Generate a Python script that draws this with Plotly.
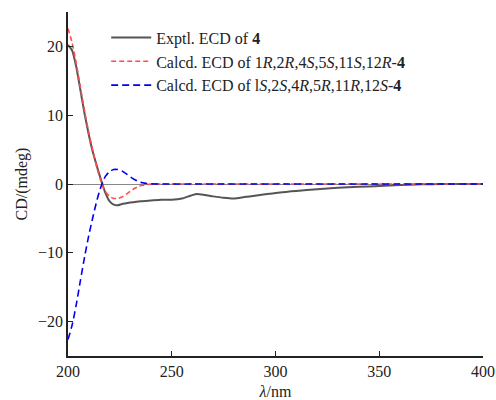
import plotly.graph_objects as go

# wavelength grid (nm) and CD values (mdeg)
wl_exp = [200, 202, 204, 206, 208, 210, 212, 214, 216, 218, 220, 222, 224, 226, 228,
          230, 235, 240, 245, 250, 255, 258, 262, 266, 270, 275, 280, 285, 290, 295,
          300, 305, 310, 320, 330, 340, 350, 360, 370, 380, 390, 400]
cd_exp = [20.2, 19.4, 17.0, 13.6, 10.2, 7.2, 4.6, 2.5, 0.5, -1.3, -2.5, -3.0, -3.1, -2.9, -2.8,
          -2.7, -2.5, -2.4, -2.3, -2.3, -2.1, -1.8, -1.45, -1.6, -1.8, -2.0, -2.1, -1.9, -1.7, -1.5,
          -1.3, -1.15, -1.0, -0.75, -0.55, -0.4, -0.3, -0.15, -0.05, 0.0, 0.0, 0.0]

wl_calc = [200, 202, 204, 206, 208, 210, 212, 214, 216, 218, 220, 222, 224, 226, 228,
           230, 232, 234, 236, 238, 240, 245, 250, 300, 350, 400]
cd_calc_a = [22.6, 20.5, 17.5, 14.0, 10.6, 7.5, 4.8, 2.3, 0.3, -1.1, -1.8, -2.1, -2.1, -1.9, -1.5,
             -1.05, -0.65, -0.35, -0.17, -0.07, -0.02, 0.0, 0.0, 0.0, 0.0, 0.0]
cd_calc_b = [-v for v in cd_calc_a]

names = ['Exptl. ECD of <b>4</b>',
         'Calcd. ECD of 1<i>R</i>,2<i>R</i>,4<i>S</i>,5<i>S</i>,11<i>S</i>,12<i>R</i>-<b>4</b>',
         'Calcd. ECD of l<i>S</i>,2<i>S</i>,4<i>R</i>,5<i>R</i>,11<i>R</i>,12<i>S</i>-<b>4</b>']

font_family = 'Liberation Serif'

fig = go.Figure()
fig.add_trace(go.Scatter(x=wl_exp, y=cd_exp, name=names[0], mode='lines', legendgroup='a',
                         line=dict(color='#555555', width=2, shape='spline', smoothing=0.6)))
fig.add_trace(go.Scatter(x=wl_calc, y=cd_calc_a, name=names[1], mode='lines', legendgroup='b',
                         line=dict(color='#ff4d4d', width=1.6, dash='5px,3px', shape='spline', smoothing=0.6)))
fig.add_trace(go.Scatter(x=wl_calc, y=cd_calc_b, name=names[2], mode='lines', legendgroup='c',
                         line=dict(color='#0000ee', width=1.6, dash='7px,4px', shape='spline', smoothing=0.6)))

fig.update_layout(
    width=496, height=400,
    paper_bgcolor='white', plot_bgcolor='white',
    font=dict(family=font_family, size=16, color='#222222'),
    margin=dict(l=68, r=13, t=12, b=44),
    showlegend=True,
    legend=dict(x=0.092, y=0.975, xanchor='left', yanchor='top', itemwidth=40,
                bgcolor='rgba(0,0,0,0)', font=dict(family=font_family, size=16, color='#222222'),
                traceorder='grouped', tracegroupgap=0),
    xaxis=dict(
        range=[200, 400], tickvals=[200, 250, 300, 350, 400],
        showgrid=False, zeroline=False, automargin=False,
        showline=True, linecolor='#222222', linewidth=1.5,
        ticks='inside', ticklen=5, tickcolor='#222222', tickwidth=1.2,
        title=dict(text='<i>λ</i>/nm', standoff=7, font=dict(size=16)),
    ),
    yaxis=dict(
        range=[-25, 25], tickvals=[-20, -10, 0, 10, 20],
        ticktext=['−20', '−10', '0', '10', '20'],
        showgrid=False, zeroline=True, zerolinecolor='#888888', zerolinewidth=1,
        showline=True, linecolor='#222222', linewidth=1.5, automargin=False,
        ticks='inside', ticklen=5, tickcolor='#222222', tickwidth=1.2,
        title=dict(text='CD/(mdeg)', standoff=6, font=dict(size=16)),
    ),
)

fig.write_html("out.html", config={'displayModeBar': False},
               post_script="document.body.style.margin='0';")
